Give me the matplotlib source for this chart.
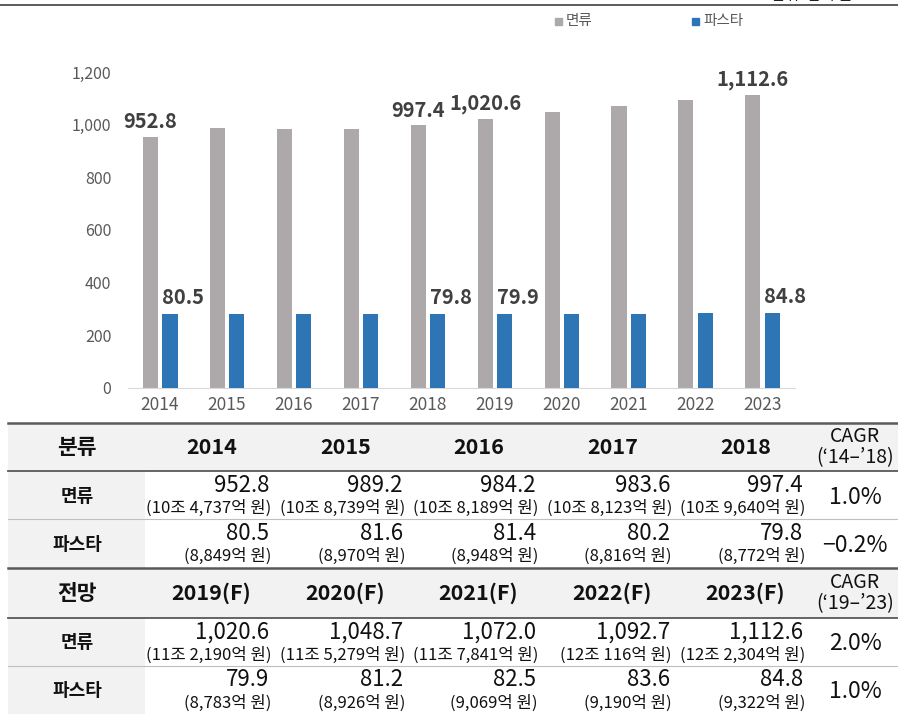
import numpy as np
import matplotlib
matplotlib.use("Agg")
import matplotlib.pyplot as plt
from matplotlib.patches import Rectangle

plt.rcParams['font.family'] = ['Noto Sans CJK KR', 'DejaVu Sans']

# chart data (십억 원)
years = ["2014", "2015", "2016", "2017", "2018", "2019", "2020", "2021", "2022", "2023"]
noodle = [952.8, 989.2, 984.2, 983.6, 997.4, 1020.6, 1048.7, 1072.0, 1092.7, 1112.6]
pasta = [80.5, 81.6, 81.4, 80.2, 79.8, 79.9, 81.2, 82.5, 83.6, 84.8]
labelled = ["2014", "2018", "2019", "2023"]

# table data
hist_years = ["2014", "2015", "2016", "2017", "2018"]
fcst_years = ["2019(F)", "2020(F)", "2021(F)", "2022(F)", "2023(F)"]
noodle_hist = ["952.8", "989.2", "984.2", "983.6", "997.4"]
noodle_hist_won = ["(10조 4,737억 원)", "(10조 8,739억 원)", "(10조 8,189억 원)",
                   "(10조 8,123억 원)", "(10조 9,640억 원)"]
pasta_hist = ["80.5", "81.6", "81.4", "80.2", "79.8"]
pasta_hist_won = ["(8,849억 원)", "(8,970억 원)", "(8,948억 원)", "(8,816억 원)", "(8,772억 원)"]
noodle_fcst = ["1,020.6", "1,048.7", "1,072.0", "1,092.7", "1,112.6"]
noodle_fcst_won = ["(11조 2,190억 원)", "(11조 5,279억 원)", "(11조 7,841억 원)",
                   "(12조 116억 원)", "(12조 2,304억 원)"]
pasta_fcst = ["79.9", "81.2", "82.5", "83.6", "84.8"]
pasta_fcst_won = ["(8,783억 원)", "(8,926억 원)", "(9,069억 원)", "(9,190억 원)", "(9,322억 원)"]
cagr_hist = ["1.0%", "−0.2%"]
cagr_fcst = ["2.0%", "1.0%"]

GRAY = "#ADA9AA"
BLUE = "#2E75B6"
TXT = "#595959"
LBL = "#404040"
W, H = 898, 714

fig = plt.figure(figsize=(W / 100, H / 100), dpi=100)

# overlay in pixel coords for table, legend and lines
tab = fig.add_axes([0, 0, 1, 1], zorder=-1)
tab.set_xlim(0, W)
tab.set_ylim(H, 0)
tab.axis("off")

# bar chart
ax = fig.add_axes([128 / W, 1 - 388 / H, (795 - 128) / W, (388 - 72) / H])
x = np.arange(len(years))
ax.bar(x - 0.14, noodle, 0.225, color=GRAY)
ax.set_ylim(0, 1200)
ax.set_xlim(-0.478, 9.49)
ax.set_yticks(range(0, 1201, 200))
ax.set_yticklabels([f"{v:,}" for v in range(0, 1201, 200)])
ax.set_xticks(x)
ax.set_xticklabels(years)
ax.tick_params(axis="y", length=0, pad=12, labelsize=11.5, labelcolor=TXT)
ax.tick_params(axis="x", length=0, pad=6, labelsize=12.5, labelcolor=TXT)
for s in ["top", "right", "left"]:
    ax.spines[s].set_visible(False)
ax.spines["bottom"].set_color("#D9D9D9")
ax.patch.set_visible(False)

# pasta on a hidden secondary axis (-200 ~ 1,000)
ax2 = ax.twinx()
y2min = -200
ax2.set_ylim(y2min, 1000)
ax2.bar(x + 0.15, np.array(pasta) - y2min, 0.225, bottom=y2min, color=BLUE)
ax2.axis("off")

for i, yr in enumerate(years):
    if yr in labelled:
        ax.annotate(f"{noodle[i]:,.1f}", (x[i] - 0.14, noodle[i]), xytext=(0, 11),
                    textcoords="offset points", ha="center", va="center",
                    fontsize=14.5, fontweight="bold", color=LBL)
        ax2.annotate(f"{pasta[i]:.1f}", (x[i] + 0.15, pasta[i]), xytext=(9.5, 12),
                     textcoords="offset points", ha="center", va="center",
                     fontsize=14.5, fontweight="bold", color=LBL)

# top rule, unit text (cut off as in the source) and legend
tab.plot([0, W], [5, 5], color="#404040", lw=1.2)
tab.text(852, 4, "단위: 십억 원", ha="right", va="bottom", fontsize=11, color="#222222")
tab.add_patch(Rectangle((555, 18), 7, 7, color=GRAY))
tab.text(566, 21.5, "면류", ha="left", va="center", fontsize=10.5, color=TXT)
tab.add_patch(Rectangle((692, 18), 7, 7, color=BLUE))
tab.text(703, 21.5, "파스타", ha="left", va="center", fontsize=10.5, color=TXT)

# table
col_right = [278, 412, 545, 679, 812]
col_w = 133.5
BG = "#F2F2F2"
sections = [
    ([423, 471, 519, 568], "분류", hist_years, "(‘14–’18)",
     [(noodle_hist, noodle_hist_won), (pasta_hist, pasta_hist_won)], cagr_hist),
    ([568, 618, 666, 714], "전망", fcst_years, "(‘19–’23)",
     [(noodle_fcst, noodle_fcst_won), (pasta_fcst, pasta_fcst_won)], cagr_fcst),
]
row_names = ["면류", "파스타"]

for ys, head, yrs, period, rows, cagr in sections:
    y0, y1, y2, y3 = ys
    tab.add_patch(Rectangle((8, y0), W - 8, y1 - y0, color=BG, lw=0))
    tab.add_patch(Rectangle((8, y1), 145 - 8, y3 - y1, color=BG, lw=0))
    tab.plot([8, W], [y0, y0], color="#595959", lw=1.8)
    tab.plot([8, W], [y1, y1], color="#595959", lw=1.3)
    tab.plot([8, W], [y2, y2], color="#BFBFBF", lw=0.8)
    hc = (y0 + y1) / 2
    tab.text(77, hc, head, ha="center", va="center", fontsize=15.5, fontweight="bold", color="#111111")
    for j, yr in enumerate(yrs):
        tab.text(col_right[j] - col_w / 2, hc, yr, ha="center", va="center",
                 fontsize=15.5, fontweight="bold", color="#111111")
    tab.text(855, hc - 11, "CAGR", ha="center", va="center", fontsize=14, color="#111111")
    tab.text(855, hc + 11, period, ha="center", va="center", fontsize=14, color="#111111")
    for r, (top, bot) in enumerate([(y1, y2), (y2, y3)]):
        vals, won = rows[r]
        tab.text(77, (top + bot) / 2 + 1, row_names[r], ha="center", va="center",
                 fontsize=13, fontweight="bold", color="#111111")
        for j in range(5):
            tab.text(col_right[j] - 9, top + 14, vals[j], ha="right", va="center",
                     fontsize=16, color="#111111")
            tab.text(col_right[j] - 7, top + 37, won[j], ha="right", va="center",
                     fontsize=12, color="#111111")
        tab.text(855, (top + bot) / 2 + 2, cagr[r], ha="center", va="center",
                 fontsize=16.5, color="#111111")

fig.savefig("out.png", dpi=100)
